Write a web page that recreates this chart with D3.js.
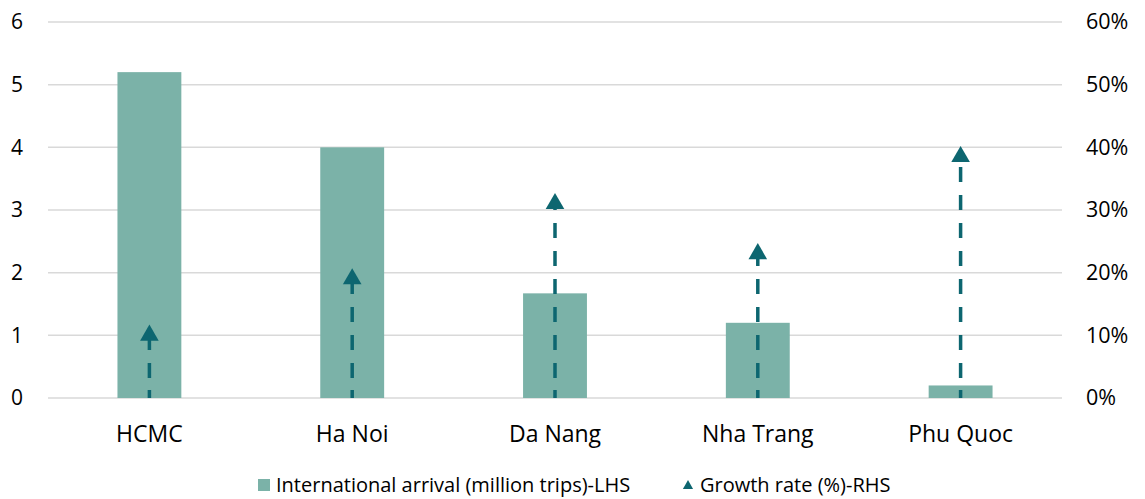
<!DOCTYPE html>
<html>
<head>
<meta charset="utf-8">
<script src="https://cdn.jsdelivr.net/npm/d3@7"></script>
<style>
  body { margin: 0; background: #fff; }
  svg { display: block; font-family: "Open Sans", sans-serif; }
</style>
</head>
<body>
<svg id="chart" width="1145" height="499"></svg>
<script>
// Data
const cities = ["HCMC", "Ha Noi", "Da Nang", "Nha Trang", "Phu Quoc"];
const arrivals = [5.2, 4.0, 1.67, 1.2, 0.2];      // million trips (LHS)
const growth = [0.10, 0.19, 0.31, 0.23, 0.385];   // growth rate (RHS)
const leftTicks = [0, 1, 2, 3, 4, 5, 6];
const rightTicks = [0, 0.1, 0.2, 0.3, 0.4, 0.5, 0.6];
const legendLabels = ["International arrival (million trips)-LHS", "Growth rate (%)-RHS"];

const barColor = "#7bb2a8";
const arrowColor = "#0d6670";
const gridColor = "#d9d9d9";

const svg = d3.select("#chart");
const margin = { left: 48, right: 1062, top: 22, bottom: 398 };

const x = d3.scaleBand().domain(cities).range([margin.left, margin.right]).paddingInner(0.685).paddingOuter(0.3425);
const yL = d3.scaleLinear().domain([0, 6]).range([margin.bottom, margin.top]);
const yR = d3.scaleLinear().domain([0, 0.6]).range([margin.bottom, margin.top]);

// Gridlines
svg.append("g").selectAll("line").data(leftTicks).join("line")
  .attr("x1", margin.left).attr("x2", margin.right)
  .attr("y1", d => yL(d)).attr("y2", d => yL(d))
  .attr("stroke", gridColor).attr("stroke-width", 1.5);

// Left axis
const leftAxis = svg.append("g").attr("transform", `translate(${margin.left - 25},0)`)
  .call(d3.axisLeft(yL).tickValues(leftTicks).tickSize(0).tickPadding(0).tickFormat(d3.format("d")));
leftAxis.select(".domain").remove();
leftAxis.selectAll(".tick text").attr("font-size", 21);

// Right axis
const rightAxis = svg.append("g").attr("transform", `translate(${margin.right + 24},0)`)
  .call(d3.axisRight(yR).tickValues(rightTicks).tickSize(0).tickPadding(0).tickFormat(d3.format(".0%")));
rightAxis.select(".domain").remove();
rightAxis.selectAll(".tick text").attr("font-size", 21.5);

// Bottom axis labels
const bottomAxis = svg.append("g").attr("transform", `translate(0,${margin.bottom + 28})`)
  .call(d3.axisBottom(x).tickSize(0).tickPadding(0));
bottomAxis.select(".domain").remove();
bottomAxis.selectAll(".tick text").attr("font-size", 23);

svg.selectAll(".tick text").attr("fill", "#000")
  .attr("font-family", "'Open Sans', sans-serif");

// Bars
svg.append("g").selectAll("rect").data(cities).join("rect")
  .attr("x", d => x(d))
  .attr("width", x.bandwidth())
  .attr("y", (d, i) => yL(arrivals[i]))
  .attr("height", (d, i) => yL(0) - yL(arrivals[i]))
  .attr("fill", barColor);

// Dashed growth lines from zero to the marker
svg.append("g").selectAll("line").data(cities).join("line")
  .attr("x1", d => x(d) + x.bandwidth() / 2)
  .attr("x2", d => x(d) + x.bandwidth() / 2)
  .attr("y1", yR(0))
  .attr("y2", (d, i) => yR(growth[i]))
  .attr("stroke", arrowColor)
  .attr("stroke-width", 3.5)
  .attr("stroke-dasharray", "8,12,15,13,15,13,15,13,15,13,15,13,15,13,15,13,15,13,15,13,15,13");

// Triangle markers
const tri = d3.symbol().type(d3.symbolTriangle).size(150);
svg.append("g").selectAll("path").data(cities).join("path")
  .attr("d", tri)
  .attr("transform", (d, i) => `translate(${x(d) + x.bandwidth() / 2},${yR(growth[i])})`)
  .attr("fill", arrowColor);

// Legend
const legend = svg.append("g").attr("font-size", 20).attr("fill", "#000");
legend.append("rect").attr("x", 258).attr("y", 479).attr("width", 12).attr("height", 12).attr("fill", barColor);
legend.append("text").attr("x", 276).attr("y", 485).attr("dy", "0.35em").text(legendLabels[0]);
legend.append("path").attr("d", d3.symbol().type(d3.symbolTriangle).size(45))
  .attr("transform", "translate(688,486)").attr("fill", arrowColor);
legend.append("text").attr("x", 700).attr("y", 485).attr("dy", "0.35em").text(legendLabels[1]);
</script>
</body>
</html>
